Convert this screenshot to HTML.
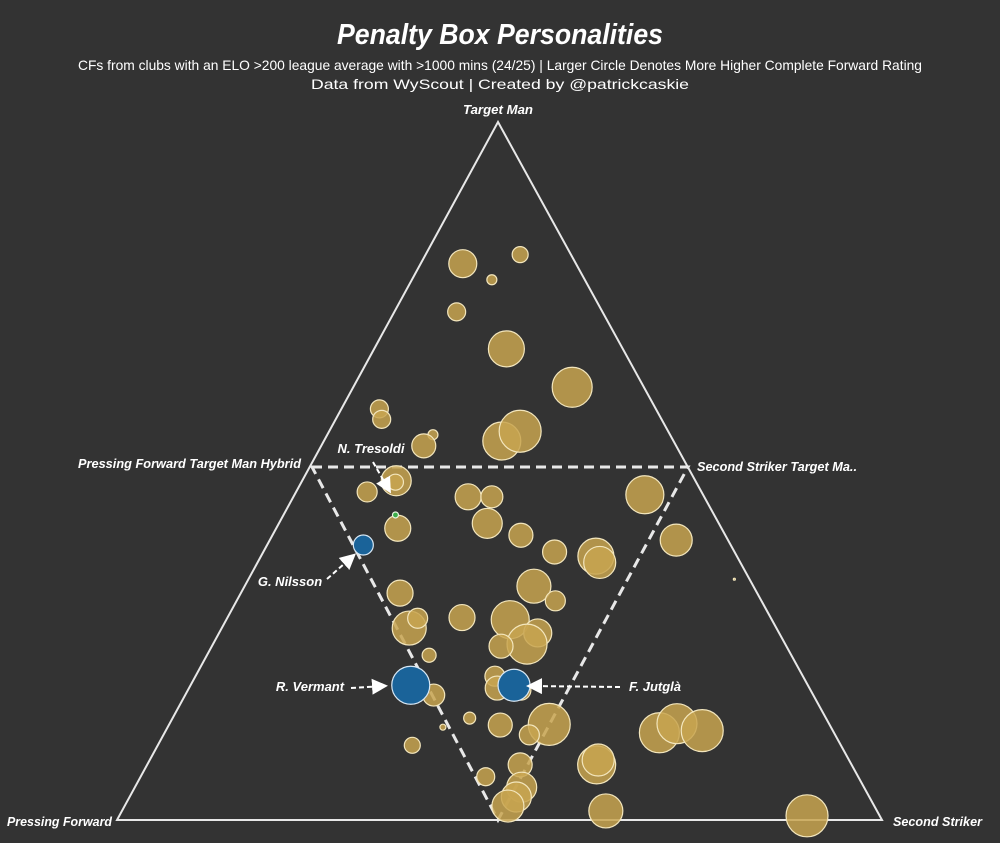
<!DOCTYPE html>
<html><head><meta charset="utf-8"><style>
html,body{margin:0;padding:0;background:#333333;}
svg{display:block;}
text{font-family:"Liberation Sans",sans-serif;fill:#fff;}
</style></head><body>
<svg id="chart" width="1000" height="843" viewBox="0 0 1000 843" xmlns="http://www.w3.org/2000/svg">
<rect width="1000" height="843" fill="#333333"/>
<text x="500" y="44" text-anchor="middle" font-size="29" font-weight="bold" font-style="italic" textLength="326" lengthAdjust="spacingAndGlyphs">Penalty Box Personalities</text>
<text x="500" y="70" text-anchor="middle" font-size="14" textLength="844" lengthAdjust="spacingAndGlyphs">CFs  from clubs with an ELO &gt;200 league average with &gt;1000 mins (24/25) | Larger Circle Denotes More Higher Complete Forward Rating</text>
<text x="500" y="89" text-anchor="middle" font-size="14" textLength="378" lengthAdjust="spacingAndGlyphs">Data from WyScout | Created by @patrickcaskie</text>
<polygon points="498,122 117,820 882,820" fill="none" stroke="#e8e8e8" stroke-width="2"/>
<polygon points="312,467 688,467 498,820" fill="none" stroke="#e8e8e8" stroke-width="3" stroke-dasharray="10,6"/>
<g font-size="13" font-weight="bold" font-style="italic">
<text x="498" y="114" text-anchor="middle" textLength="70" lengthAdjust="spacingAndGlyphs">Target Man</text>
<text x="78" y="468" textLength="223" lengthAdjust="spacingAndGlyphs">Pressing Forward Target Man Hybrid</text>
<text x="697" y="471" textLength="160" lengthAdjust="spacingAndGlyphs">Second Striker Target Ma..</text>
<text x="7" y="826" textLength="105" lengthAdjust="spacingAndGlyphs">Pressing Forward</text>
<text x="893" y="826" textLength="89" lengthAdjust="spacingAndGlyphs">Second Striker</text>
</g>
<g id="points"></g>
<defs><marker id="ah" markerWidth="8" markerHeight="8" refX="6" refY="4" orient="auto"><path d="M0,0 L8,4 L0,8 Z" fill="#fff"/></marker></defs>
<g font-size="13" font-weight="bold" font-style="italic" stroke-width="2">
<text x="371" y="453" text-anchor="middle">N. Tresoldi</text>
<line x1="373" y1="462" x2="389" y2="490" stroke="#fff" stroke-dasharray="5,3" stroke-width="2" marker-end="url(#ah)"/>
<text x="290" y="586" text-anchor="middle">G. Nilsson</text>
<line x1="327" y1="579" x2="353" y2="556" stroke="#fff" stroke-dasharray="5,3" stroke-width="2" marker-end="url(#ah)"/>
<text x="310" y="691" text-anchor="middle">R. Vermant</text>
<line x1="351" y1="688" x2="384" y2="686" stroke="#fff" stroke-dasharray="5,3" stroke-width="2" marker-end="url(#ah)"/>
<text x="655" y="691" text-anchor="middle">F. Jutglà</text>
<line x1="620" y1="687" x2="530" y2="686" stroke="#fff" stroke-dasharray="5,3" stroke-width="2" marker-end="url(#ah)"/>
</g>
</svg>
<script>
// data: horizontal position (0-100 across base), height (0-100 toward Target Man), rating (circle size)
const posX=[45.2,49.0,52.7,44.4,50.9,59.5,34.3,34.6,41.3,50.3,52.7,40.1,36.5,36.4,32.7,45.9,49.0,69.0,48.4,52.8,36.7,57.2,62.6,63.1,73.1,54.5,57.3,37.0,45.1,38.2,39.3,51.4,55.0,53.6,50.2,40.8,49.4,56.5,52.8,49.7,41.4,46.1,42.6,50.1,70.9,73.2,76.5,38.6,53.9,62.7,62.9,52.7,52.9,48.2,52.2,51.1,63.9,90.2,80.7];
const posY=[79.7,77.4,81.0,72.8,67.5,62.0,58.9,57.4,55.2,54.3,55.7,53.6,48.6,48.4,47.0,46.3,46.3,46.6,42.5,40.8,41.8,38.4,37.8,36.9,40.1,33.5,31.4,32.5,29.0,27.5,28.9,28.7,26.8,25.2,24.9,23.6,20.6,13.7,18.6,18.9,17.9,14.6,13.3,13.6,12.5,13.8,12.8,10.7,12.2,7.9,8.6,7.9,4.7,6.2,3.3,2.0,1.3,0.6,34.5];
const rating=[14,5,8,9,18,20,9,9,5,19,21,12,15,8,10,13,11,19,15,12,13,12,18,16,16,17,10,13,13,17,10,19,14,20,12,7,10,21,10,12,11,6,3,12,20,20,21,8,10,19,16,12,15,9,15,16,17,21,1];
const hlX=[32.2,38.4,51.9];
const hlY=[39.4,19.3,19.3];
const hlRating=[10,19,16];
const nameList=["G. Nilsson","R. Vermant","F. Jutglà"];
const greenX=[36.4], greenY=[43.7];
const sx=v=>117+v*7.65, sy=v=>820-v*6.98, sr=v=>v;
const g=document.getElementById('points');
const NS='http://www.w3.org/2000/svg';
function circ(x,y,r,fill,stroke){const c=document.createElementNS(NS,'circle');c.setAttribute('cx',sx(x));c.setAttribute('cy',sy(y));c.setAttribute('r',sr(r));c.setAttribute('fill',fill);c.setAttribute('stroke',stroke);c.setAttribute('stroke-width','1.2');g.appendChild(c);return c;}
for(let i=0;i<posX.length;i++){const c=circ(posX[i],posY[i],rating[i],'rgba(200,165,80,0.85)','#f3e6bd');

}
for(let i=0;i<greenX.length;i++){const c=circ(greenX[i],greenY[i],3,'#3cae4a','#e8f5e0');

}
for(let i=0;i<hlX.length;i++){const c=circ(hlX[i],hlY[i],hlRating[i],'#1a6399','#d8e8f5');

}
</script>
</body></html>
